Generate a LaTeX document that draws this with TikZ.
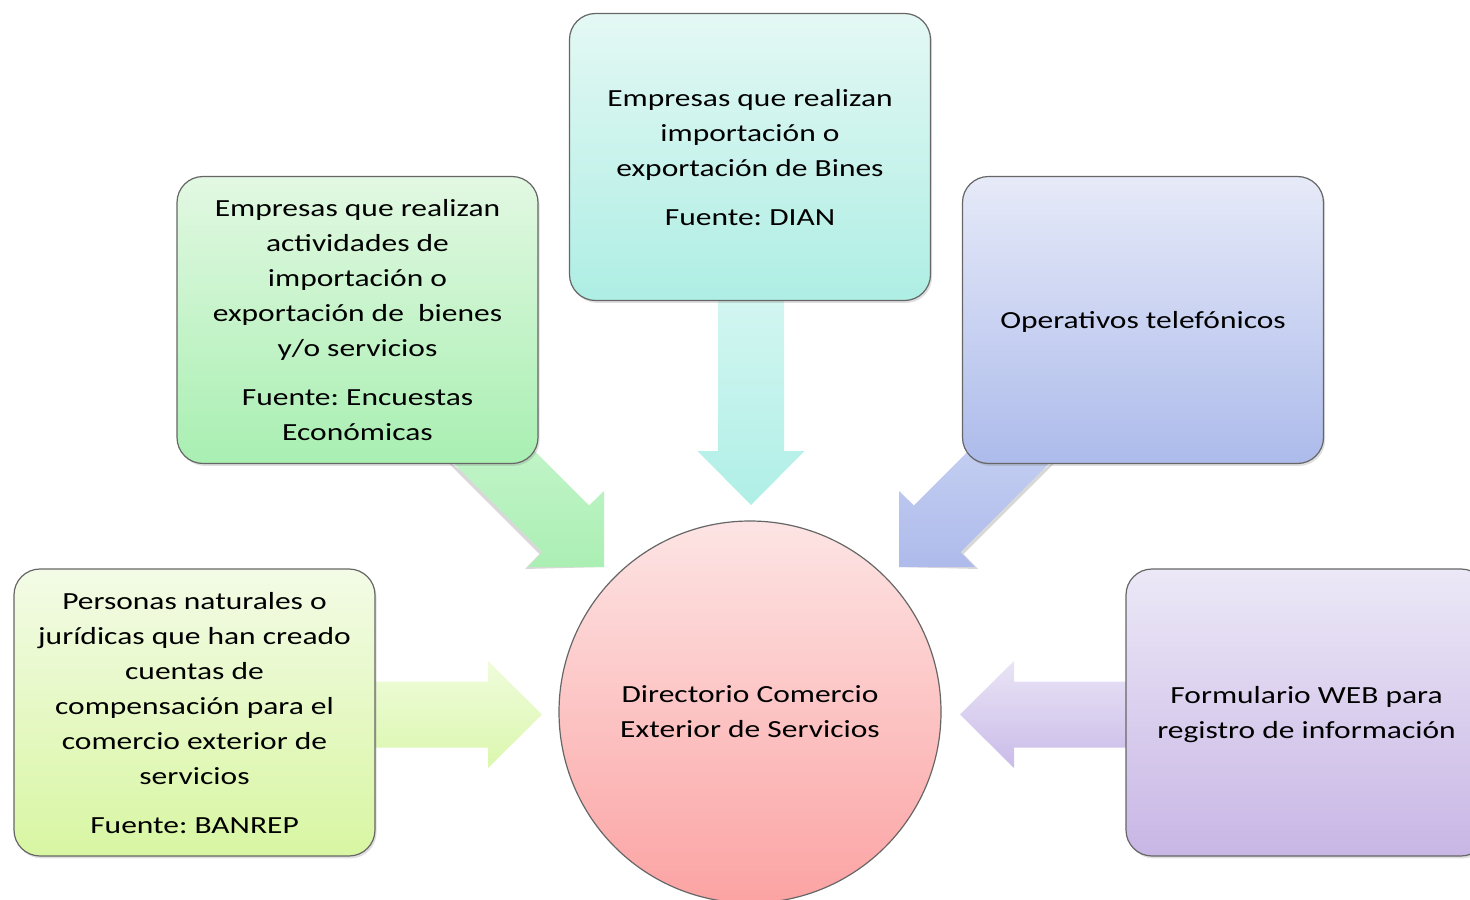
\documentclass[tikz,border=0pt]{standalone}
\usepackage{fontspec}
\setmainfont{Carlito}[FakeStretch=1.28]
\frenchspacing
\usetikzlibrary{shadows,calc}
\definecolor{cyT}{HTML}{E4F8F4}\definecolor{cyB}{HTML}{AEEEE4}
\definecolor{grT}{HTML}{E2F8E2}\definecolor{grB}{HTML}{A9EFB2}
\definecolor{blT}{HTML}{E6EAF8}\definecolor{blB}{HTML}{ADBBEB}
\definecolor{yeT}{HTML}{F3FBE6}\definecolor{yeB}{HTML}{D8F6A2}
\definecolor{puT}{HTML}{ECE8F7}\definecolor{puB}{HTML}{C8B6E5}
\definecolor{rdT}{HTML}{FDE4E4}\definecolor{rdB}{HTML}{FCA3A3}
\definecolor{agT}{HTML}{C8F6CE}\definecolor{agB}{HTML}{ABEFB4}
\definecolor{acT}{HTML}{D4F6F1}\definecolor{acB}{HTML}{AFEFE6}
\definecolor{abT}{HTML}{CAD4F3}\definecolor{abB}{HTML}{AEBBEB}
\definecolor{ayT}{HTML}{EFFCDB}\definecolor{ayB}{HTML}{DBF7AE}
\definecolor{apT}{HTML}{E9E4F6}\definecolor{apB}{HTML}{CABBE8}
\tikzset{
  box/.style={rectangle, rounded corners=13pt, draw=black!60, line width=0.6pt,
    minimum width=180.5pt, minimum height=143.5pt, align=center, inner sep=0pt,
    text depth=0pt, font=\fontsize{12.3}{17.5}\selectfont,
    drop shadow={opacity=0.25, shadow xshift=0.8pt, shadow yshift=-1.2pt}},
  hub/.style={circle, draw=black!60, line width=0.6pt, minimum size=191pt, inner sep=0pt,
    text depth=0pt, align=center, font=\fontsize{12.3}{17.5}\selectfont, top color=rdT, bottom color=rdB},
  ashadow/.style={fill=black!30, opacity=0.5},
}
\begin{document}
\begin{tikzpicture}[x=0.5pt, y=-0.5pt]
\useasboundingbox (0,0) rectangle (1470,899);
\clip (0,0) rectangle (1470,899);
% arrows (behind boxes)
\coordinate (tipG) at (604,567);
\coordinate (tipB) at (899,567);
\coordinate (tipD) at (751,505);
\coordinate (tipY) at (542,714.5);
\coordinate (tipP) at (960,714.5);
% shadows of diagonal arrows
\fill[ashadow] ($(tipG)+(-157.3,-110.7)+(-3,2)$) -- ($(tipG)+(-61.5,-14.9)+(-3,2)$) -- ($(tipG)+(-76,0)+(-3,2)$) -- (tipG) -- cycle;
\fill[ashadow] ($(tipB)+(157.3,-110.7)+(3,2)$) -- ($(tipB)+(61.5,-14.9)+(3,2)$) -- ($(tipB)+(76,0)+(3,2)$) -- (tipB) -- cycle;
% green diagonal
\path[top color=agT, bottom color=agB] ($(tipG)+(-157.3,-110.7)$) -- ($(tipG)+(-61.5,-14.9)$) -- ($(tipG)+(-76,0)$) -- (tipG) -- ($(tipG)+(0,-76)$) -- ($(tipG)+(-14.9,-61.5)$) -- ($(tipG)+(-110.7,-157.3)$) -- cycle;
% blue diagonal
\path[top color=abT, bottom color=abB] ($(tipB)+(157.3,-110.7)$) -- ($(tipB)+(61.5,-14.9)$) -- ($(tipB)+(76,0)$) -- (tipB) -- ($(tipB)+(0,-76)$) -- ($(tipB)+(14.9,-61.5)$) -- ($(tipB)+(110.7,-157.3)$) -- cycle;
% down arrow
\path[top color=acT, bottom color=acB] ($(tipD)+(-33,-215)$) -- ($(tipD)+(-33,-54)$) -- ($(tipD)+(-53.5,-54)$) -- (tipD) -- ($(tipD)+(53.5,-54)$) -- ($(tipD)+(33,-54)$) -- ($(tipD)+(33,-215)$) -- cycle;
% right-pointing arrow from yellow box
\path[top color=ayT, bottom color=ayB] ($(tipY)+(-172,-33)$) -- ($(tipY)+(-54,-33)$) -- ($(tipY)+(-54,-53.5)$) -- (tipY) -- ($(tipY)+(-54,53.5)$) -- ($(tipY)+(-54,33)$) -- ($(tipY)+(-172,33)$) -- cycle;
% left-pointing arrow from purple box
\path[top color=apT, bottom color=apB] ($(tipP)+(172,-33)$) -- ($(tipP)+(54,-33)$) -- ($(tipP)+(54,-53.5)$) -- (tipP) -- ($(tipP)+(54,53.5)$) -- ($(tipP)+(54,33)$) -- ($(tipP)+(172,33)$) -- cycle;
% boxes
\node[box, top color=cyT, bottom color=cyB] (T) at (750,157) {Empresas que realizan\\importación o\\exportación de Bines\\[7pt]Fuente: DIAN};
\node[box, top color=grT, bottom color=grB] (G) at (357.5,320) {Empresas que realizan\\actividades de\\importación o\\exportación de\ \ bienes\\y/o servicios\\[7pt]Fuente: Encuestas\\Económicas};
\node[box, top color=blT, bottom color=blB] (B) at (1143,320) {Operativos telefónicos};
\node[box, top color=yeT, bottom color=yeB] (Y) at (194.5,712.5) {Personas naturales o\\jurídicas que han creado\\cuentas de\\compensación para el\\comercio exterior de\\servicios\\[7pt]Fuente: BANREP};
\node[box, top color=puT, bottom color=puB] (P) at (1306.5,712.5) {Formulario WEB para\\registro de información};
\node[hub] (C) at (750,712) {Directorio Comercio\\Exterior de Servicios};
\end{tikzpicture}
\end{document}
